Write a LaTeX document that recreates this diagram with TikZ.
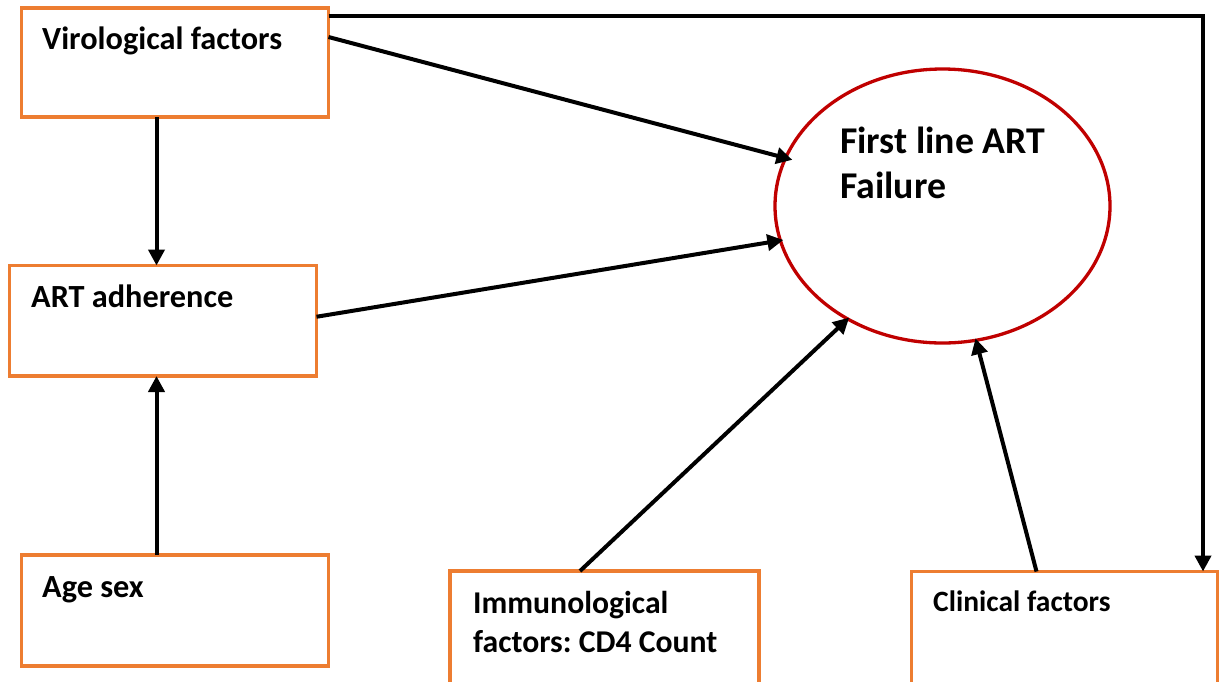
\documentclass[tikz,border=0pt]{standalone}
\usepackage{fontspec}
\setmainfont{Carlito}
\usetikzlibrary{shapes.geometric,arrows.meta,calc}
\definecolor{boxorange}{HTML}{ED7D31}
\definecolor{ellred}{HTML}{C00000}
\begin{document}
\begin{tikzpicture}[x=1pt,y=-1pt,
  box/.style={draw=boxorange,line width=3.6pt,rectangle,inner sep=0pt,outer sep=0pt,anchor=north west},
  lbl/.style={font=\bfseries\fontsize{32.3}{39}\selectfont,inner sep=0pt,anchor=base west,align=left},
  conn/.style={line width=4pt,-{Triangle[length=16pt,width=16pt]}},
]
\useasboundingbox (0,0) rectangle (1220,681);
\clip (0,0) rectangle (1220,681);
\fill[white] (0,0) rectangle (1220,681);
% boxes
\node[box,minimum width=307pt,minimum height=109pt] (vir) at (21.5,8) {};
\node[box,minimum width=307pt,minimum height=110.5pt] (art) at (9.5,265.5) {};
\node[box,minimum width=307pt,minimum height=111pt] (age) at (21.5,555) {};
\node[box,minimum width=309pt,minimum height=150pt] (imm) at (450,571) {};
\node[box,minimum width=306pt,minimum height=150pt] (cli) at (911.5,571.5) {};
\node[draw=ellred,line width=3.3pt,ellipse,minimum width=335pt,minimum height=274pt,inner sep=0pt,outer sep=0pt] (ell) at (942.5,206) {};
% labels
\node[lbl] (virt) at ($(vir.north west)+(20.5,41)$) {Virological factors};
\node[lbl] (artt) at ($(art.north west)+(21.5,41.5)$) {ART adherence};
\node[lbl] (aget) at ($(age.north west)+(20.5,42)$) {Age sex};
\node[lbl,font=\bfseries\fontsize{31.7}{39}\selectfont] (immt) at ($(imm.north west)+(23,81)$) {Immunological\\factors:\ CD4 Count};
\node[lbl,font=\bfseries\fontsize{29.5}{34}\selectfont] (clit) at ($(cli.north west)+(21.5,39.5)$) {Clinical factors};
\node[lbl,font=\bfseries\fontsize{37.8}{45}\selectfont] (ellt) at (840,198) {First line ART\\Failure};
% connectors
\draw[conn,shorten >=-7pt] ($(vir.north east)!0.266!(vir.south east)$) -- (ell.163.6);
\draw[conn] ($(vir.north east)!0.073!(vir.south east)$) -| ($(cli.north west)+(291.5,0)$);
\draw[conn] ($(vir.south west)+(135,0)$) -- ($(art.north west)+(147,0)$);
\draw[conn] ($(age.north west)+(135,0)$) -- ($(art.south west)+(147,0)$);
\draw[conn,shorten >=-3pt] ($(art.east)+(0,-4)$) -- (ell.192.1);
\draw[conn,shorten >=-2pt] ($(imm.north west)+(130,0)$) -- (ell.230.2);
\draw[conn,shorten >=-2pt] ($(cli.north west)+(125,0)$) -- (ell.284.1);
\end{tikzpicture}
\end{document}
